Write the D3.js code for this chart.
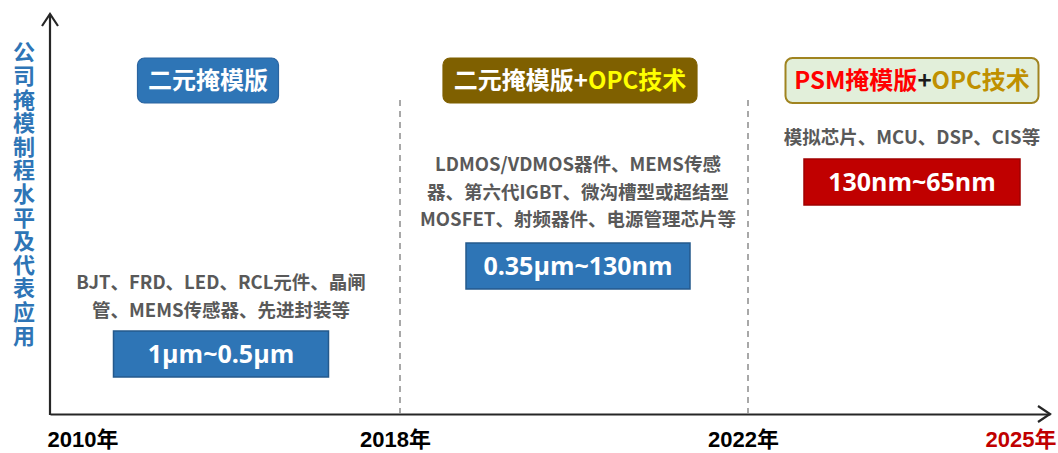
<!DOCTYPE html>
<html>
<head>
<meta charset="utf-8">
<script src="https://cdn.jsdelivr.net/npm/d3@7"></script>
<style>
  html, body { margin: 0; padding: 0; background: #fff; }
  svg { display: block; }
</style>
</head>
<body>
<div id="chart"></div>
<script>
// data
const years = [2010, 2018, 2022, 2025];
const yearLabels = ["2010年", "2018年", "2022年", "2025年"];
const yTitle = "公司掩模制程水平及代表应用";
const phaseNames = [
  [{ t: "二元掩模版", c: "#ffffff" }],
  [{ t: "二元掩模版", c: "#ffffff" }, { t: "+", c: "#ffffff" }, { t: "OPC技术", c: "#ffff00" }],
  [{ t: "PSM掩模版", c: "#ff0000" }, { t: "+", c: "#1a1a1a" }, { t: "OPC技术", c: "#bf9000" }]
];
const phaseApps = [
  ["BJT、FRD、LED、RCL元件、晶闸", "管、MEMS传感器、先进封装等"],
  ["LDMOS/VDMOS器件、MEMS传感", "器、第六代IGBT、微沟槽型或超结型", "MOSFET、射频器件、电源管理芯片等"],
  ["模拟芯片、MCU、DSP、CIS等"]
];
const phaseNodes = ["1μm~0.5μm", "0.35μm~130nm", "130nm~65nm"];

// layout / styles
const width = 1058, height = 453;
const axisY = 414, axisTop = 14;
const headerStyle = [
  { fill: "#2e75b6", stroke: "#2a64a0", w: 141, dx: -17 },
  { fill: "#7f6000", stroke: "#7f6000", w: 254, dx: -4 },
  { fill: "#e2efda", stroke: "#a08420", w: 253, dx: 13 }
];
const textTop = [283, 165, 138];     // first line centre of app text
const nodeBox = [
  { y: 331, w: 215, dx: -4, fill: "#2e75b6", stroke: "#24598c" },
  { y: 243, w: 224, dx: 4, fill: "#2e75b6", stroke: "#24598c" },
  { y: 159, w: 216, dx: 13, fill: "#c00000", stroke: "#a00000" }
];

const cjk = "'Noto Sans CJK SC', 'Open Sans', sans-serif";

const svg = d3.select("#chart").append("svg")
  .attr("width", width).attr("height", height);

const x = d3.scaleLinear()
  .domain(years)
  .range([50, 400, 748, 1050]);

// x axis
const xAxis = d3.axisBottom(x)
  .tickValues(years)
  .tickSize(0)
  .tickSizeOuter(0)
  .tickPadding(17)
  .tickFormat((d, i) => yearLabels[i]);

const gx = svg.append("g")
  .attr("transform", `translate(0,${axisY})`)
  .call(xAxis);
gx.select(".domain").attr("stroke", "#262626").attr("stroke-width", 2.2);
gx.selectAll("text")
  .attr("font-family", "'Liberation Sans', Arial, 'Noto Sans CJK SC', sans-serif")
  .attr("font-weight", "bold")
  .attr("font-size", 22)
  .attr("fill", (d, i) => i === years.length - 1 ? "#c00000" : "#000")
  .attr("text-anchor", (d, i) => i === 0 ? "start" : i === years.length - 1 ? "end" : "middle")
  .attr("dx", (d, i) => i === 0 ? -3 : i === years.length - 1 ? 6 : -5);

// x arrow
svg.append("path")
  .attr("d", `M${x(2025) - 12},${axisY - 8}L${x(2025)},${axisY}L${x(2025) - 12},${axisY + 8}`)
  .attr("fill", "none").attr("stroke", "#262626").attr("stroke-width", 2.2);

// y axis
svg.append("line")
  .attr("x1", x(2010)).attr("x2", x(2010))
  .attr("y1", axisTop).attr("y2", axisY + 1)
  .attr("stroke", "#262626").attr("stroke-width", 2.2);
svg.append("path")
  .attr("d", `M${x(2010) - 8},${axisTop + 12}L${x(2010)},${axisTop}L${x(2010) + 8},${axisTop + 12}`)
  .attr("fill", "none").attr("stroke", "#262626").attr("stroke-width", 2.2);

// y title, vertical text
svg.append("text")
  .attr("x", 24)
  .attr("y", 41)
  .style("writing-mode", "vertical-rl")
  .style("letter-spacing", "1.6px")
  .attr("font-family", cjk)
  .attr("font-weight", "bold")
  .attr("font-size", 22)
  .attr("fill", "#2e75b6")
  .text(yTitle);

// dashed dividers
svg.append("g").selectAll("line")
  .data(years.slice(1, 3))
  .join("line")
  .attr("x1", d => x(d)).attr("x2", d => x(d))
  .attr("y1", 100).attr("y2", axisY)
  .attr("stroke", "#8c8c8c").attr("stroke-width", 1.5)
  .attr("stroke-dasharray", "6,5");

const phaseCenter = i => (x(years[i]) + x(years[i + 1])) / 2;

// header boxes
phaseNames.forEach((parts, i) => {
  const s = headerStyle[i];
  const cx = phaseCenter(i) + s.dx;
  const g = svg.append("g");
  g.append("rect")
    .attr("x", cx - s.w / 2).attr("y", 58)
    .attr("width", s.w).attr("height", 45)
    .attr("rx", 7)
    .attr("fill", s.fill).attr("stroke", s.stroke).attr("stroke-width", i === 2 ? 2 : 1.2);
  const t = g.append("text")
    .attr("x", cx).attr("y", 81)
    .attr("dy", "0.35em")
    .attr("text-anchor", "middle")
    .attr("font-family", cjk)
    .attr("font-weight", "bold")
    .attr("font-size", 24);
  t.selectAll("tspan").data(parts).join("tspan")
    .attr("fill", d => d.c)
    .text(d => d.t);
});

// application text
phaseApps.forEach((lines, i) => {
  const cx = phaseCenter(i) + nodeBox[i].dx;
  svg.append("g").selectAll("text")
    .data(lines)
    .join("text")
    .attr("x", cx)
    .attr("y", (d, j) => textTop[i] + j * 27.5)
    .attr("dy", "0.35em")
    .attr("text-anchor", "middle")
    .attr("font-family", cjk)
    .attr("font-weight", "bold")
    .attr("font-size", 18.5)
    .attr("fill", "#595959")
    .text(d => d);
});

// node range boxes
phaseNodes.forEach((label, i) => {
  const b = nodeBox[i];
  const cx = phaseCenter(i) + b.dx;
  svg.append("rect")
    .attr("x", cx - b.w / 2).attr("y", b.y)
    .attr("width", b.w).attr("height", 46)
    .attr("fill", b.fill).attr("stroke", b.stroke).attr("stroke-width", 1.5);
  svg.append("text")
    .attr("x", cx).attr("y", b.y + 23)
    .attr("dy", "0.35em")
    .attr("text-anchor", "middle")
    .attr("font-family", "'Open Sans', 'Noto Sans CJK SC', sans-serif")
    .attr("font-weight", "bold")
    .attr("font-size", 25)
    .attr("fill", "#fff")
    .text(label);
});
</script>
</body>
</html>
